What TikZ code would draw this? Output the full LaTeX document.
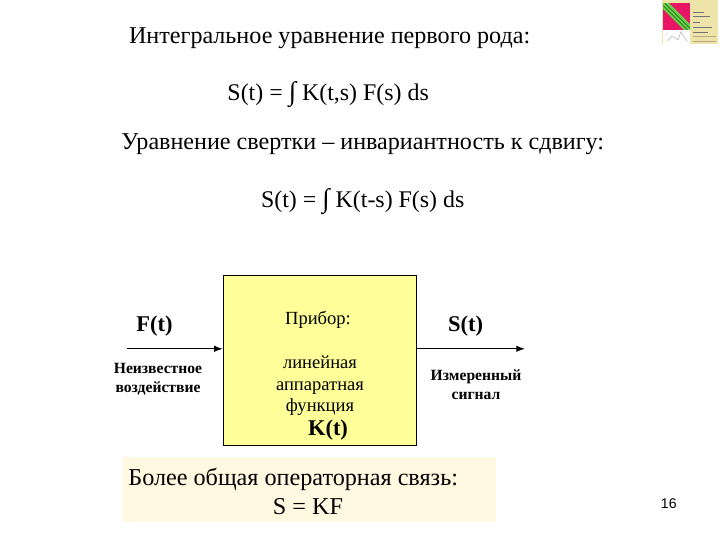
\documentclass[tikz,border=0pt]{standalone}
\usepackage{fontspec}
\setmainfont{Liberation Serif}
\setsansfont{Liberation Sans}
\usepackage{xcolor}
\usetikzlibrary{arrows.meta, positioning, calc}
\definecolor{boxyellow}{RGB}{255, 255, 153}
\definecolor{notecream}{RGB}{255, 249, 225}
\definecolor{logotan}{RGB}{238, 228, 170}
\definecolor{logored}{RGB}{232, 20, 100}
\definecolor{logogreen}{RGB}{100, 215, 70}
\newcommand{\bigint}{{\bfseries\fontsize{19}{20}\selectfont ∫}}
\begin{document}
\begin{tikzpicture}[
        title/.style={font=\fontsize{17.15}{20}\selectfont, inner sep=0pt, anchor=base west},
        formula/.style={font=\fontsize{17}{20}\selectfont, inner sep=0pt, anchor=base west},
        signal/.style={font=\fontsize{16}{18}\selectfont\bfseries, inner sep=0pt},
        caption/.style={font=\fontsize{11.1}{13.5}\selectfont\bfseries, align=center, inner sep=0pt},
        inside/.style={font=\fontsize{13.2}{15.3}\selectfont, align=center, inner sep=0pt},
        flow/.style={-{Latex[length=6pt,width=4.5pt]}, line width=0.6pt},
    ]
        \useasboundingbox (0,0) rectangle (18,13.5);
        \fill[white] (0,0) rectangle (18,13.5);

        % logo
        \fill[logotan] (16.55,12.4) rectangle (17.95,13.5);
        \fill[logored] (16.58,12.75) rectangle (17.25,13.42);
        \fill[white] (16.58,12.4) rectangle (17.25,12.75);
        \begin{scope}
            \clip (16.58,12.75) rectangle (17.25,13.42);
            \draw[logogreen, line width=6pt] (16.58,13.42) -- (17.25,12.75);
            \draw[logogreen!60!black, line width=0.7pt] (16.62,13.42) -- (17.25,12.79);
            \draw[logogreen!60!black, line width=0.7pt] (16.58,13.36) -- (17.19,12.75);
        \end{scope}
        \foreach \y/\e in {13.2/17.6,13.08/17.75,12.95/17.5,12.82/17.8,12.7/17.7}
            \draw[black!55, line width=0.6pt] (17.33,\y) -- (\e,\y);
        \foreach \y in {12.58,12.47}
            \draw[black!25!logotan, line width=0.5pt] (17.33,\y) -- (17.9,\y);
        \draw[black!35, line width=0.3pt] (16.68,12.47) -- (16.8,12.6) -- (16.95,12.5) -- (17.02,12.7) -- (17.18,12.47);

        % formulas
        \node[title] (eqtitle) at (3.22,12.42) {Интегральное уравнение первого рода:};
        \node[formula] (eqone) at (5.68,10.99) {S(t) = \bigint{} K(t,s) F(s) ds};
        \node[title] (convtitle) at (3.03,9.75) {Уравнение свертки – инвариантность к сдвигу:};
        \node[formula] (eqtwo) at (6.52,8.31) {S(t) = \bigint{} K(t-s) F(s) ds};

        % device
        \node[draw, fill=boxyellow, line width=0.6pt, minimum width=4.825cm, minimum height=4.25cm, inner sep=0pt] (device) at (7.9875,4.5) {};
        \node[inside] (devname) at (7.95,5.5) {Прибор:};
        \node[inside] (devtext) at (8,3.85) {линейная\\аппаратная\\функция};
        \node[signal] (kernel) at (8.2,2.74) {K(t)};

        \coordinate (instart) at (3.18,4.78);
        \coordinate (outend) at (13.12,4.78);
        \draw[flow] (instart) -- (instart -| device.west);
        \draw[flow] (instart -| device.east) -- (outend);

        \node[signal] (input) at (3.86,5.35) {F(t)};
        \node[signal] (output) at (11.64,5.35) {S(t)};
        \node[caption] (inputcap) at (3.95,4.02) {Неизвестное\\воздействие};
        \node[caption] (outputcap) at (11.9,3.89) {Измеренный\\сигнал};

        % note
        \node[fill=notecream, minimum width=9.325cm, minimum height=1.625cm, inner sep=0pt] (note) at (7.73,1.26) {};
        \node[font=\fontsize{17.2}{20}\selectfont, inner sep=0pt] (noteline) at (7.33,1.52) {Более общая операторная связь:};
        \node[font=\fontsize{17.2}{20}\selectfont, inner sep=0pt] (noteformula) at (7.7,0.83) {S = KF};

        \node[font=\sffamily\fontsize{10}{12}\selectfont, inner sep=0pt] (pagenum) at (16.72,0.9) {16};
    \end{tikzpicture}
\end{document}
